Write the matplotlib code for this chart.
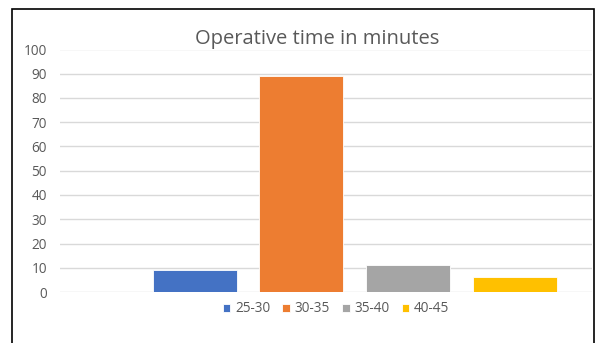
import matplotlib.pyplot as plt
from matplotlib.patches import Rectangle
import numpy as np

# operative time groups (minutes) and number of cases in each
groups = ['25-30', '30-35', '35-40', '40-45']
counts = [9, 89, 11, 6]
colours = ['#4472C4', '#ED7D31', '#A5A5A5', '#FFC000']

plt.rcParams['font.family'] = ['Open Sans', 'DejaVu Sans']

fig = plt.figure(figsize=(5.96, 3.43), dpi=100)
W, H = 596, 343
ax = fig.add_axes([60 / W, 1 - 292 / H, (592 - 60) / W, (292 - 49.5) / H])

x = np.arange(len(groups))
bars = ax.bar(x, counts, width=0.787, color=colours, edgecolor='white',
              linewidth=0.6, zorder=3, label=groups)

ax.set_xlim(-1.262, 3.724)
ax.set_ylim(0, 100)
ax.set_yticks(range(0, 101, 10))
ax.set_xticks([])
ax.yaxis.grid(True, color='#d9d9d9', linewidth=1, zorder=0)
for s in ax.spines.values():
    s.set_visible(False)
ax.tick_params(axis='y', length=0, pad=9.4, labelsize=9.8, labelcolor='#595959')

fig.text(317.5 / W, 1 - 39 / H, 'Operative time in minutes', ha='center',
         va='center', fontsize=14.5, color='#595959')

# legend below the plot
leg = fig.legend(bars, groups, loc='center', bbox_to_anchor=(336 / W, 1 - 309 / H),
                 ncol=4, frameon=False, fontsize=9.8, handlelength=0.55,
                 handleheight=0.55, handletextpad=0.35, columnspacing=0.9)
for t in leg.get_texts():
    t.set_color('#595959')

# chart border (bottom edge runs off the image)
fig.patches.append(Rectangle((12 / W, -0.1), (594 - 12) / W, 1 - 9 / H + 0.1,
                             transform=fig.transFigure, fill=False,
                             edgecolor='black', linewidth=1.2))

fig.savefig('out.png', dpi=100)
